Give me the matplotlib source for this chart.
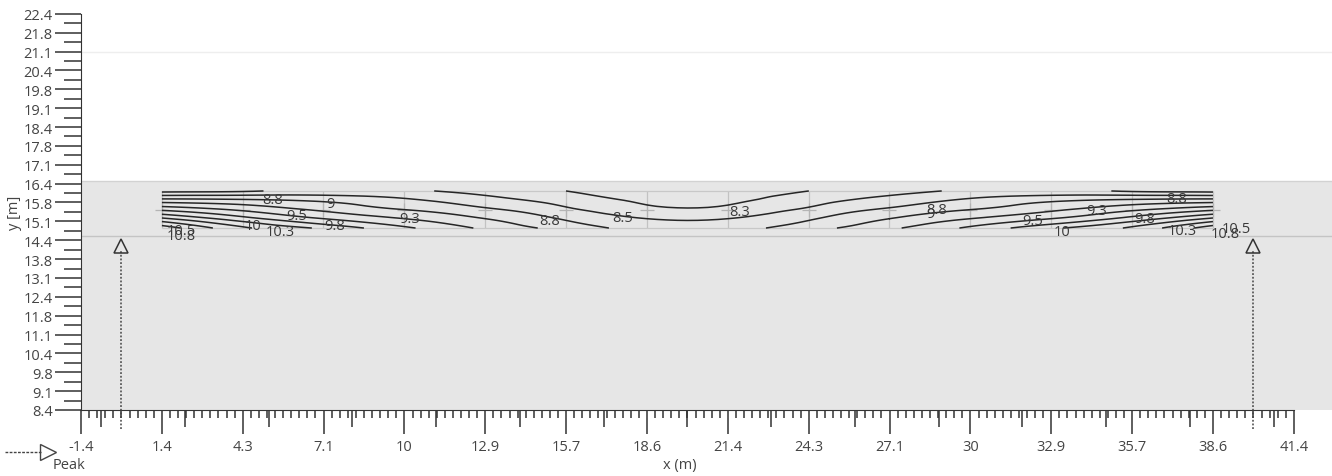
import numpy as np
import matplotlib.pyplot as plt
import matplotlib.tri as mtri
from matplotlib.lines import Line2D

# beam mesh nodes (m) and the field, bottom row first
node_x = [1.43, 4.29, 7.14, 10.0, 12.86, 15.71, 18.57, 21.43, 24.29, 27.14, 30.0, 32.86, 35.71, 38.57]
node_y = [14.86, 15.19, 15.51, 15.84, 16.17]
field_bottom = [10.9, 10.3, 9.95, 9.55, 9.2, 8.9, 8.65, 8.65, 8.9, 9.2, 9.55, 9.95, 10.3, 10.9]
field_row1 = [10.3, 9.85, 9.5, 9.25, 9.0, 8.72, 8.5, 8.5, 8.72, 9.0, 9.25, 9.5, 9.85, 10.3]
field_row2 = [9.7, 9.45, 9.2, 9.0, 8.8, 8.55, 8.32, 8.32, 8.55, 8.8, 9.0, 9.2, 9.45, 9.7]
field_row3 = [9.1, 9.05, 8.95, 8.8, 8.6, 8.4, 8.2, 8.2, 8.4, 8.6, 8.8, 8.95, 9.05, 9.1]
field_top = [8.42, 8.46, 8.62, 8.55, 8.4, 8.25, 8.1, 8.1, 8.25, 8.4, 8.55, 8.62, 8.46, 8.42]

levels = [8.25, 8.5, 8.75, 9.0, 9.25, 9.5, 9.75, 10.0, 10.25, 10.5, 10.75]

# contour labels as shown (text, x, y)
contour_labels = [
    ('10.5', 2.1, 14.78), ('10.8', 2.1, 14.6), ('8.8', 5.35, 15.86), ('9', 7.37, 15.71),
    ('9.5', 6.2, 15.3), ('10', 4.65, 14.94), ('10.3', 5.6, 14.72), ('9.8', 7.55, 14.94),
    ('9.3', 10.2, 15.18), ('8.8', 15.14, 15.12), ('8.5', 17.7, 15.24), ('8.3', 21.86, 15.44),
    ('8.8', 28.8, 15.52), ('9', 28.6, 15.38), ('9.5', 32.2, 15.12), ('10', 33.23, 14.73),
    ('9.3', 34.47, 15.47), ('8.8', 37.3, 15.89), ('9.8', 36.17, 15.18), ('10.3', 37.5, 14.77),
    ('10.5', 39.4, 14.86), ('10.8', 39.0, 14.66),
]

support_x = [0, 40]
support_y = 14.22

deck_top = 16.52
deck_line = 14.58

plt.rcParams['font.family'] = ['Open Sans', 'DejaVu Sans']
plt.rcParams['font.size'] = 10.5

fig = plt.figure(figsize=(13.32, 4.77), dpi=100)
ax = fig.add_axes([81 / 1332, 66 / 477, 1 - 81 / 1332, 411 / 477])

px = 28.3
x0, x1 = -10 / 7, 290 / 7
y0, y1 = 8.43, 22.43
ax.set_xlim(x0, x0 + 1251 / px)
ax.set_ylim(y0, y0 + 411 / px)

# background bands
ax.axhspan(y0, deck_top, color='#e6e6e6', zorder=0, lw=0)
ax.axhline(deck_top, color='#d2d2d2', lw=1, zorder=1)
ax.axhline(deck_line, color='#c4c4c4', lw=1, zorder=1)
ax.axhline(21.08, color='#eeeeee', lw=1, zorder=1)

# mesh
ax.vlines(node_x, node_y[0], node_y[-1], color='#c2c2c2', lw=0.9, zorder=2)
ax.hlines([node_y[0], node_y[-1]], node_x[0], node_x[-1], color='#c8c8c8', lw=0.9, zorder=2)
ax.plot(node_x, [node_y[2]] * len(node_x), '+', color='#b4b4b4', ms=10, mew=0.9, zorder=2)

# contour of the field, smoothed by matplotlib's triangulation refiner
gx, gy = np.meshgrid(node_x, node_y)
z = np.array([field_bottom, field_row1, field_row2, field_row3, field_top])
tri = mtri.Triangulation(gx.ravel(), gy.ravel())
refiner = mtri.UniformTriRefiner(tri)
tri_fine, z_fine = refiner.refine_field(z.ravel(), subdiv=3)
ax.tricontour(tri_fine, z_fine, levels=levels, colors='#262626', linewidths=1.1, zorder=3)
for txt, lx, ly in contour_labels:
    ax.text(lx, ly, txt, ha='center', va='center', color='#3a3a3a', fontsize=10.5, zorder=4)

# supports
for sx in support_x:
    ax.plot([sx, sx], [7.76, support_y - 0.15], color='#444444', lw=1.1,
            linestyle=(0, (1.2, 1.2)), clip_on=False, zorder=3)
    ax.plot(sx, support_y, marker='^', ms=10, mfc='none', mec='#333333', mew=1.1, zorder=4)

# axes styling
for s in ['top', 'right']:
    ax.spines[s].set_visible(False)
ax.spines['left'].set_bounds(y0, y1)
ax.spines['bottom'].set_bounds(x0, x1)
ax.spines['left'].set_color('#333333')
ax.spines['bottom'].set_color('#333333')

xt = np.linspace(x0, x1, 16)
ax.set_xticks(xt)
ax.set_xticklabels(['{:.0f}'.format(v) if abs(v - round(v)) < 0.01 else '{:.1f}'.format(v) for v in xt])
ax.set_xticks(np.linspace(x0, x1, 151), minor=True)
yt = np.linspace(y0, y1, 22)
ax.set_yticks(yt)
ax.set_yticklabels(['{:.1f}'.format(v) for v in yt])
ax.set_yticks(np.linspace(y0, y1, 43), minor=True)

ax.tick_params(axis='x', which='major', length=17, width=1.1, color='#333333', pad=4, labelcolor='#444444')
ax.tick_params(axis='x', which='minor', length=6, width=1.1, color='#333333')
ax.tick_params(axis='y', which='major', length=19, width=1.1, color='#333333', pad=1.5, labelcolor='#444444')
ax.tick_params(axis='y', which='minor', length=12, width=1.1, color='#333333')

sec = ax.secondary_xaxis('bottom')
sec.set_xticks(np.linspace(x0 + 10 / 14, x1 - 10 / 14, 15))
sec.tick_params(length=12.5, width=1.1, color='#333333', labelbottom=False)
sec.spines['bottom'].set_visible(False)

fig.text(680 / 1332, 1 - 466 / 477, 'x (m)', ha='center', va='center', color='#444444')
fig.text(15 / 1332, 1 - 213 / 477, 'y [m]', ha='center', va='center', rotation=90, color='#444444')

# legend
fig.add_artist(Line2D([5 / 1332, 41 / 1332], [1 - 453 / 477] * 2, transform=fig.transFigure,
                      color='#444444', lw=1.0, linestyle=(0, (2, 1))))
fig.add_artist(Line2D([48 / 1332], [1 - 453 / 477], transform=fig.transFigure, marker='>',
                      ms=11, mfc='none', mec='#444444', mew=1.0, linestyle='none'))
fig.text(53 / 1332, 1 - 466 / 477, 'Peak', ha='left', va='center', color='#444444')

fig.savefig('out.png', dpi=100)
